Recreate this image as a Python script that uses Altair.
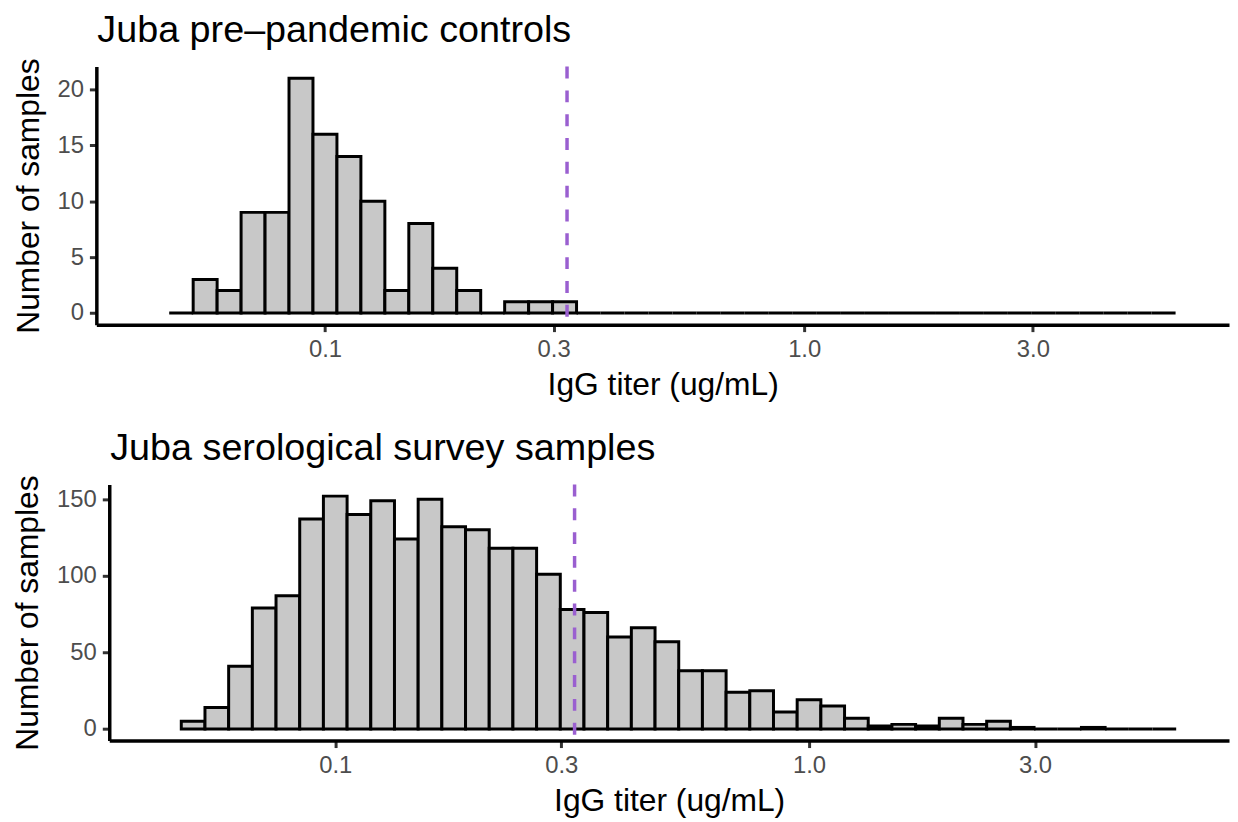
import altair as alt
import pandas as pd

FONT = "Liberation Sans"

# Histogram bins (uniform in log10 titer)
BIN_START_LOG10 = -1.325
BIN_WIDTH_LOG10 = 0.05

control_counts = [0, 3, 2, 9, 9, 21, 16, 14, 10, 2, 8, 4, 2, 0, 1, 1, 1,
                  0, 0, 0, 0, 0, 0, 0, 0, 0, 0, 0, 0, 0, 0, 0, 0, 0, 0, 0, 0, 0, 0, 0, 0, 0]
survey_counts = [5, 14, 41, 79, 87, 137, 152, 140, 149, 124, 150, 132, 130, 118, 118, 101,
                 78, 76, 60, 66, 57, 38, 38, 24, 25, 11, 19, 15, 7, 2, 3, 2, 7, 3, 5, 1,
                 0, 0, 1, 0, 0, 0]

cutoff = [0.32]
x_ticks = [0.1, 0.3, 1.0, 3.0]
x_domain = [0.03334, 7.70]
control_y_ticks = [0, 5, 10, 15, 20]
survey_y_ticks = [0, 50, 100, 150]

titles = ["Juba pre\u2013pandemic controls", "Juba serological survey samples"]

PANEL_W = 1141


def make_df(counts):
    lo = [10 ** (BIN_START_LOG10 + i * BIN_WIDTH_LOG10) for i in range(len(counts))]
    hi = [10 ** (BIN_START_LOG10 + (i + 1) * BIN_WIDTH_LOG10) for i in range(len(counts))]
    return pd.DataFrame({"lo": lo, "hi": hi, "count": counts})


def panel(counts, title, yticks, height, inset):
    df = make_df(counts)
    ymax = max(counts)
    xscale = alt.Scale(type="log", domain=x_domain, nice=False, range=[inset, PANEL_W])
    yscale = alt.Scale(domain=[-0.05 * ymax, 1.05 * ymax], nice=False, zero=False)
    yaxis_kw = dict(values=yticks, title="Number of samples")
    if inset:
        yaxis_kw["offset"] = -inset
    bars = alt.Chart(df).mark_rect(
        fill="#C8C8C8", stroke="black", strokeWidth=3
    ).encode(
        x=alt.X("lo:Q", scale=xscale,
                axis=alt.Axis(values=x_ticks, format=".1f", title="IgG titer (ug/mL)")),
        x2="hi:Q",
        y=alt.Y("count:Q", scale=yscale, axis=alt.Axis(**yaxis_kw)),
        y2=alt.datum(0),
    )
    rule = alt.Chart(pd.DataFrame({"cutoff": cutoff})).mark_rule(
        color="#9A5FD0", strokeDash=[12, 12], strokeWidth=3.5
    ).encode(x=alt.X("cutoff:Q", scale=xscale))
    head = alt.Chart(pd.DataFrame({"t": [title]})).mark_text(
        align="left", baseline="alphabetic", fontSize=38, font=FONT, color="black"
    ).encode(text="t:N", x=alt.value(inset + 1), y=alt.value(-24.5))
    return alt.layer(bars, rule, head).properties(width=PANEL_W, height=height)


top = panel(control_counts, titles[0], control_y_ticks, 260, 0)
bottom = panel(survey_counts, titles[1], survey_y_ticks, 258, 13)

chart = alt.vconcat(top, bottom, spacing=29).properties(
    padding={"left": 3, "top": 1, "right": 0, "bottom": 2}
).configure_view(stroke="transparent").configure_axis(
    grid=False, domainColor="black", domainWidth=3.5, tickColor="#333333",
    tickWidth=3, tickSize=7, labelColor="#4D4D4D", labelFontSize=24, labelFont=FONT,
    titleFont=FONT, titleFontSize=32, titleFontWeight="normal", titleColor="black",
    labelPadding=6, titlePadding=12
).configure_axisX(titlePadding=8)

chart.save("out.html", embed_options={"renderer": "svg", "actions": False})
